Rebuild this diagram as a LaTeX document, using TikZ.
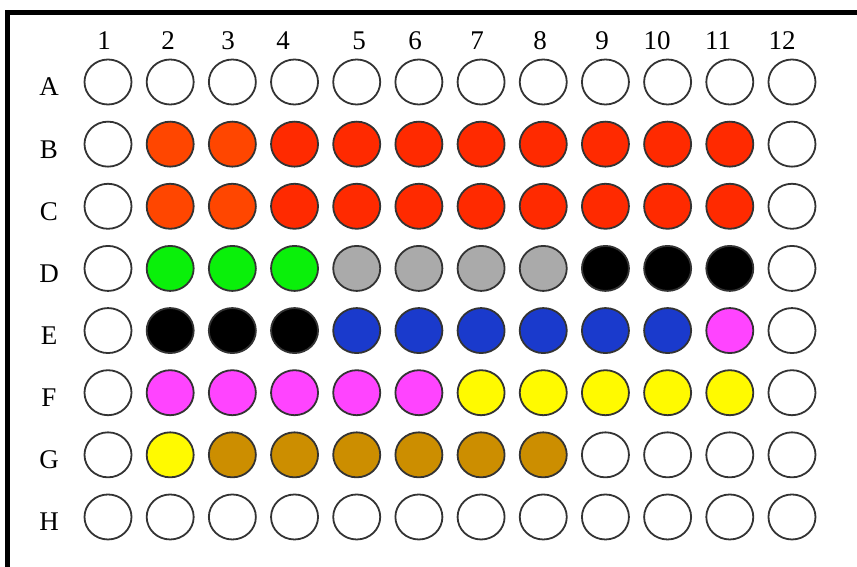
\documentclass[tikz,border=0pt]{standalone}
\usepackage{fontspec}
\setmainfont{Liberation Serif}
\usetikzlibrary{shapes.geometric,positioning}
\definecolor{WellEmpty}{RGB}{255, 255, 255}
\definecolor{WellOrange}{RGB}{255, 70, 0}
\definecolor{WellRed}{RGB}{255, 42, 0}
\definecolor{WellGreen}{RGB}{10, 240, 10}
\definecolor{WellGray}{RGB}{170, 170, 170}
\definecolor{WellBlack}{RGB}{0, 0, 0}
\definecolor{WellBlue}{RGB}{26, 58, 204}
\definecolor{WellPink}{RGB}{255, 68, 255}
\definecolor{WellYellow}{RGB}{255, 250, 0}
\definecolor{WellBrown}{RGB}{204, 142, 0}

\begin{document}
\begin{tikzpicture}[x=1pt, y=-1pt,
  well/.style={ellipse, draw=black!80, line width=1.8pt, fill=#1,
    minimum width=47pt, minimum height=45pt, inner sep=0pt},
  lbl/.style={font=\fontsize{27}{32}\selectfont, anchor=base, inner sep=0pt}]
  \useasboundingbox (0, 0) rectangle (857, 567);
  \fill[white] (0, 0) rectangle (857, 567);

  % Plate frame (cut off at right and bottom)
  \draw[line width=5pt] (7.5, 567) -- (7.5, 12.5) -- (857, 12.5);

  % Column labels
  \foreach \lx [count=\j] in {104,168,228,283,359,415,477,540,602,657,718,782}
    \node[lbl] (c\j) at (\lx, 50) {\j};

  % Wells, row by row
  \foreach \r/\cl [count=\i] in {
      A/{WellEmpty,WellEmpty,WellEmpty,WellEmpty,WellEmpty,WellEmpty,WellEmpty,WellEmpty,WellEmpty,WellEmpty,WellEmpty,WellEmpty},
      B/{WellEmpty,WellOrange,WellOrange,WellRed,WellRed,WellRed,WellRed,WellRed,WellRed,WellRed,WellRed,WellEmpty},
      C/{WellEmpty,WellOrange,WellOrange,WellRed,WellRed,WellRed,WellRed,WellRed,WellRed,WellRed,WellRed,WellEmpty},
      D/{WellEmpty,WellGreen,WellGreen,WellGreen,WellGray,WellGray,WellGray,WellGray,WellBlack,WellBlack,WellBlack,WellEmpty},
      E/{WellEmpty,WellBlack,WellBlack,WellBlack,WellBlue,WellBlue,WellBlue,WellBlue,WellBlue,WellBlue,WellPink,WellEmpty},
      F/{WellEmpty,WellPink,WellPink,WellPink,WellPink,WellPink,WellYellow,WellYellow,WellYellow,WellYellow,WellYellow,WellEmpty},
      G/{WellEmpty,WellYellow,WellBrown,WellBrown,WellBrown,WellBrown,WellBrown,WellBrown,WellEmpty,WellEmpty,WellEmpty,WellEmpty},
      H/{WellEmpty,WellEmpty,WellEmpty,WellEmpty,WellEmpty,WellEmpty,WellEmpty,WellEmpty,WellEmpty,WellEmpty,WellEmpty,WellEmpty}} {
    \pgfmathsetmacro{\wy}{82 + 62.14*(\i-1)}
    \node[lbl] (r\r) at (49, \wy+14) {\r};
    \foreach \col [count=\j] in \cl
      \node[well=\col] (\r\j) at ({108 + 62.18*(\j-1)}, \wy) {};
  }
\end{tikzpicture}
\end{document}
